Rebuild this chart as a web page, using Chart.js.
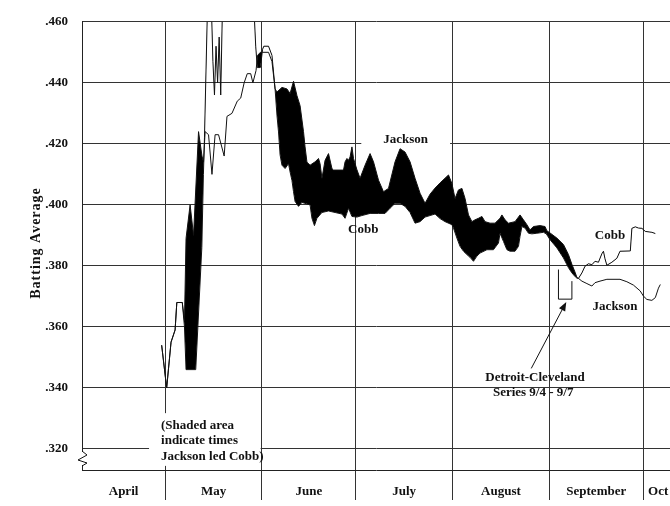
<!DOCTYPE html>
<html>
<head>
<meta charset="utf-8">
<script src="https://cdn.jsdelivr.net/npm/chart.js@4.4.1/dist/chart.umd.min.js"></script>
<style>
  html, body { margin: 0; padding: 0; background: #fff; }
</style>
</head>
<body>
<canvas id="chart" width="670" height="506"></canvas>
<script>
// x = days counted from April 1 (May 1 = 30, June 1 = 61 ...), y = batting average
const cobb = [
  [28.9,.354],[30.5,.340],[31.9,.355],[33.2,.359],[33.75,.368],[35.5,.368],[36.2,.360],[36.7,.346],
  [39.8,.346],[41.75,.386],[42.26,.410],[42.6,.422],[43.0,.440],[43.5,.462],[44.2,.468],[44.9,.462],
  [45.3,.447],[45.8,.436],[46.3,.452],[46.8,.440],[47.3,.455],[47.8,.436],[48.3,.462],[49.5,.470],
  [52.0,.474],[55.0,.470],[57.5,.468],[58.5,.463],[59.0,.452],[59.5,.445],[60.5,.445],[61.2,.451],
  [61.6,.452],[63.1,.452],[64.2,.449],[65.2,.438],[65.8,.4294],[66.3,.4239],[66.8,.4164],[67.4,.4130],
  [68.4,.4119],[69.5,.4135],[70.0,.4108],[70.6,.4080],[71.1,.4043],[71.6,.4011],[72.7,.3995],[73.8,.4008],
  [76.4,.4000],[77.0,.3956],[77.8,.3932],[78.6,.3956],[80.2,.3975],[82.3,.3980],[84.4,.3975],[86.6,.3970],
  [87.6,.3956],[88.7,.3989],[89.8,.3962],[91.4,.3960],[93.0,.3965],[95.6,.3972],[98.3,.3972],[100.4,.3972],
  [102.0,.3989],[103.6,.4005],[105.2,.4005],[106.8,.3995],[108.4,.3975],[110.0,.3940],[111.6,.3945],[113.2,.3960],
  [114.8,.3965],[116.4,.3970],[118.0,.3955],[119.6,.3945],[121.8,.3935],[122.3,.3924],[123.4,.3891],[124.4,.3864],
  [125.5,.3848],[126.6,.3837],[127.6,.3828],[128.7,.3815],[129.8,.3832],[130.8,.3842],[133.0,.3853],[135.1,.3853],
  [136.7,.3875],[137.2,.3907],[138.3,.3880],[139.4,.3853],[140.4,.3848],[142.0,.3848],[143.1,.3864],[143.6,.3897],
  [144.2,.3929],[145.2,.3924],[146.3,.3907],[147.4,.3905],[149.0,.3907],[151.1,.3910],[152.0,.3905],[153.2,.3886],
  [155.4,.3859],[157.5,.3826],[159.1,.3794],[160.2,.3777],[161.3,.3764],[161.8,.3760],[162.3,.3759],[163.4,.3777],
  [164.4,.3799],[165.5,.3807],[166.6,.3804],[167.6,.3815],[168.7,.3812],[169.8,.3840],[170.3,.3848],[170.8,.3823],
  [171.4,.3802],[173.0,.3812],[174.6,.3825],[175.6,.3848],[178.9,.3849],[179.4,.3923],[180.5,.3928],[181.5,.3924],
  [182.6,.3923],[183.7,.3913],[185.8,.3910],[186.9,.3906]
];

const jackson = [
  [28.9,.354],[30.5,.340],[31.9,.355],[33.2,.359],[33.75,.368],[35.5,.368],[36.2,.362],[36.7,.389],
  [38.0,.400],[39.1,.390],[40.7,.424],[41.8,.416],[42.3,.414],[42.8,.424],[43.9,.423],[45.0,.410],
  [46.0,.423],[47.1,.423],[48.9,.416],[49.8,.429],[51.4,.430],[53.1,.434],[54.2,.435],[55.3,.440],
  [56.3,.443],[57.4,.443],[58.1,.440],[59.1,.444],[59.6,.449],[60.5,.450],[61.2,.450],[63.1,.450],
  [64.2,.447],[65.2,.438],[65.8,.437],[67.4,.4385],[69.0,.438],[70.0,.4365],[71.1,.4405],[72.2,.4358],
  [73.2,.4325],[74.3,.424],[74.8,.419],[75.4,.414],[76.4,.413],[78.0,.4141],[79.1,.4152],[79.6,.4135],
  [80.2,.4087],[81.2,.4146],[82.3,.4168],[83.4,.4119],[83.9,.4114],[87.1,.4114],[87.6,.4141],[88.2,.4152],
  [88.7,.4146],[89.2,.4157],[89.8,.419],[90.3,.4152],[91.4,.4115],[92.4,.4087],[94.0,.413],[95.6,.4168],
  [96.7,.4141],[98.3,.4081],[99.9,.4043],[101.5,.4054],[103.6,.4141],[105.2,.4184],[106.8,.4173],[108.4,.4141],
  [110.0,.4087],[111.6,.4038],[113.2,.4005],[114.8,.4035],[116.4,.4055],[118.0,.4072],[120.7,.4098],[121.8,.407],
  [122.8,.4021],[123.9,.4049],[125.0,.4054],[126.0,.4021],[127.1,.3967],[128.2,.3945],[129.2,.3951],[130.3,.3956],
  [131.4,.3962],[132.4,.3945],[134.0,.394],[135.6,.394],[137.2,.3956],[137.8,.3967],[138.8,.3951],[139.9,.394],
  [142.0,.3945],[143.6,.3967],[144.7,.3951],[145.8,.3935],[146.8,.3918],[147.9,.3929],[150.0,.3932],[151.6,.3929],
  [152.2,.3915],[153.2,.3908],[155.4,.3891],[157.5,.387],[159.1,.3837],[160.2,.3805],[161.3,.3777],[161.8,.3762],
  [162.3,.3759],[163.4,.375],[165.0,.3742],[166.6,.3734],[167.6,.3745],[169.2,.375],[171.4,.3756],[175.6,.3756],
  [177.8,.3748],[179.9,.3737],[182.05,.3718],[183.1,.3701],[184.2,.369],[185.8,.3687],[186.9,.3696],[187.9,.3727],
  [188.5,.3739]
];

const monthStarts = [30, 61, 91, 122, 153, 183];
const monthNames = ['April', 'May', 'June', 'July', 'August', 'September', 'Oct'];
const monthMids = [16.7, 45.5, 76, 106.5, 137.5, 168, 187.8];
const yTicks = [0.32, 0.34, 0.36, 0.38, 0.40, 0.42, 0.44, 0.46];

const serif = '"Liberation Serif", "DejaVu Serif", serif';
const ink = '#111';

// notes placed in data coordinates
const notes = [
  { text: 'Jackson', x: 107.0, y: 0.4215, padX: 22, padY: 8 },
  { text: 'Cobb', x: 93.4, y: 0.3920 },
  { text: 'Cobb', x: 172.4, y: 0.3900 },
  { text: 'Jackson', x: 174.0, y: 0.3668 },
  { text: 'Detroit-Cleveland', x: 148.4, y: 0.3434 },
  { text: 'Series 9/4 - 9/7', x: 147.8, y: 0.3385 }
];
const shadedNote = ['(Shaded area', 'indicate times', 'Jackson led Cobb)'];
const shadedNoteAt = { x: 28.7, y: 0.3278, step: 0.0052 };
const arrowFrom = [147.2, 0.3464], arrowTo = [158.4, 0.3682];
const bracket = [[155.9, 0.3788], [155.9, 0.3691], [160.2, 0.3691], [160.2, 0.3750]];

const annotate = {
  id: 'annotate',
  afterDraw(chart) {
    const { ctx, scales: { x, y } } = chart;
    ctx.save();
    ctx.font = 'bold 13px ' + serif;
    ctx.textBaseline = 'middle';

    // shaded-area note, on a white patch that breaks the grid
    const lines = shadedNote.map((t, i) => ({ t, px: x.getPixelForValue(shadedNoteAt.x), py: y.getPixelForValue(shadedNoteAt.y - i * shadedNoteAt.step) }));
    const w = Math.max(...lines.map(l => ctx.measureText(l.t).width));
    ctx.fillStyle = '#fff';
    ctx.fillRect(lines[0].px - 12, lines[0].py - 12, w + 9, lines[2].py - lines[0].py + 21);
    ctx.fillStyle = ink;
    ctx.textAlign = 'left';
    lines.forEach(l => ctx.fillText(l.t, l.px, l.py));

    ctx.textAlign = 'center';
    notes.forEach(n => {
      const px = x.getPixelForValue(n.x), py = y.getPixelForValue(n.y);
      if (n.padX) {
        const tw = ctx.measureText(n.text).width;
        ctx.fillStyle = '#fff';
        ctx.fillRect(px - tw / 2 - n.padX, py - n.padY, tw + 2 * n.padX, 2 * n.padY);
      }
      ctx.fillStyle = ink;
      ctx.fillText(n.text, px, py);
    });

    // bracket for the Detroit-Cleveland series
    ctx.strokeStyle = ink;
    ctx.lineWidth = 1;
    ctx.beginPath();
    bracket.forEach((p, i) => {
      const px = x.getPixelForValue(p[0]), py = y.getPixelForValue(p[1]);
      i ? ctx.lineTo(px, py) : ctx.moveTo(px, py);
    });
    ctx.stroke();

    // arrow
    const ax = x.getPixelForValue(arrowFrom[0]), ay = y.getPixelForValue(arrowFrom[1]);
    const bx = x.getPixelForValue(arrowTo[0]), by = y.getPixelForValue(arrowTo[1]);
    const ang = Math.atan2(by - ay, bx - ax);
    ctx.beginPath();
    ctx.moveTo(ax, ay);
    ctx.lineTo(bx - 6 * Math.cos(ang), by - 6 * Math.sin(ang));
    ctx.stroke();
    ctx.beginPath();
    ctx.moveTo(bx, by);
    ctx.lineTo(bx - 9 * Math.cos(ang) + 3.5 * Math.sin(ang), by - 9 * Math.sin(ang) - 3.5 * Math.cos(ang));
    ctx.lineTo(bx - 9 * Math.cos(ang) - 3.5 * Math.sin(ang), by - 9 * Math.sin(ang) + 3.5 * Math.cos(ang));
    ctx.closePath();
    ctx.fillStyle = ink;
    ctx.fill();

    // axis break on the y axis below .320
    const left = chart.chartArea.left;
    ctx.fillStyle = '#fff';
    ctx.fillRect(left - 1, 452, 3, 13);
    ctx.beginPath();
    ctx.moveTo(left, 451);
    ctx.lineTo(left + 5, 455);
    ctx.lineTo(left - 4, 460);
    ctx.lineTo(left + 5, 463);
    ctx.lineTo(left, 466);
    ctx.stroke();

    // y axis title
    ctx.save();
    ctx.translate(36, 243);
    ctx.rotate(-Math.PI / 2);
    ctx.font = 'bold 14px ' + serif;
    ctx.letterSpacing = '1px';
    ctx.fillStyle = ink;
    ctx.textAlign = 'center';
    ctx.fillText('Batting Average', 0, 0);
    ctx.restore();

    ctx.restore();
  }
};

new Chart(document.getElementById('chart'), {
  type: 'line',
  data: {
    datasets: [
      {
        label: 'Cobb',
        data: cobb.map(p => ({ x: p[0], y: p[1] })),
        borderColor: ink,
        borderWidth: 1,
        pointRadius: 0,
        tension: 0,
        fill: false
      },
      {
        label: 'Jackson',
        data: jackson.map(p => ({ x: p[0], y: p[1] })),
        borderColor: ink,
        borderWidth: 1,
        pointRadius: 0,
        tension: 0,
        fill: { target: 0, above: '#000', below: 'rgba(0,0,0,0)' }
      }
    ]
  },
  options: {
    responsive: false,
    animation: false,
    devicePixelRatio: 1,
    layout: { padding: { top: 19, left: 0, right: 0, bottom: 0 } },
    plugins: {
      legend: { display: false },
      tooltip: { enabled: false }
    },
    scales: {
      x: {
        type: 'linear',
        min: 3.4,
        max: 191.6,
        afterBuildTicks: s => {
          s.ticks = monthStarts.concat(monthMids).sort((a, b) => a - b).map(v => ({ value: v }));
        },
        afterFit: s => { s.height = 36; },
        grid: {
          color: c => (c.tick && monthStarts.includes(c.tick.value)) ? '#333' : 'rgba(0,0,0,0)',
          lineWidth: 1,
          drawTicks: true,
          tickLength: 30
        },
        border: { display: true, color: '#222', width: 1 },
        ticks: {
          autoSkip: false,
          maxRotation: 0,
          padding: -16,
          color: ink,
          font: { family: serif, size: 13, weight: 'bold' },
          callback: v => {
            const i = monthMids.indexOf(v);
            return i < 0 ? '' : monthNames[i];
          }
        }
      },
      y: {
        type: 'linear',
        min: 0.3131,
        max: 0.46,
        afterBuildTicks: s => { s.ticks = yTicks.map(v => ({ value: v })); },
        afterFit: s => { s.width = 82; },
        grid: { color: '#333', lineWidth: 1, drawTicks: false },
        border: { display: true, color: '#222', width: 1 },
        ticks: {
          padding: 14,
          color: ink,
          font: { family: serif, size: 13, weight: 'bold' },
          callback: v => v.toFixed(3).replace(/^0/, '')
        }
      }
    }
  },
  plugins: [annotate]
});
</script>
</body>
</html>
